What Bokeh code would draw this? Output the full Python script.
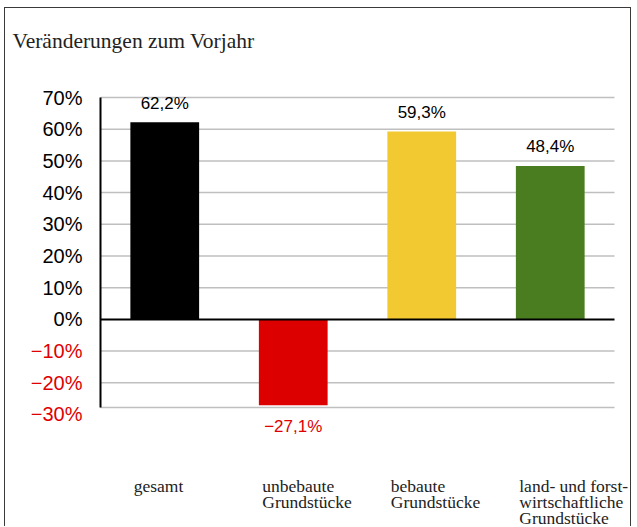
from bokeh.plotting import figure
from bokeh.models import ColumnDataSource, Range1d
from bokeh.core.properties import value
from bokeh.embed import file_html
from bokeh.resources import INLINE

title_text = "Veränderungen zum Vorjahr"
categories = ["gesamt", "unbebaute\nGrundstücke", "bebaute\nGrundstücke",
              "land- und forst-\nwirtschaftliche\nGrundstücke"]
changes = [62.2, -27.1, 59.3, 48.4]
bar_colors = ["#000000", "#dc0000", "#f2c931", "#4a7d20"]
y_ticks = [-30, -20, -10, 0, 10, 20, 30, 40, 50, 60, 70]
y_min, y_max = -27.8, 70          # visible value range of the plot area

MINUS = "\u2212"
SANS = value("Liberation Sans")
SERIF = value("Liberation Serif")
RED_TXT = "#e00000"
GRID = "#bfbfbf"


def pct(v, dec=1):
    s = f"{abs(v):.{dec}f}".replace(".", ",")
    return (MINUS if v < 0 else "") + s + "%"


# ---- layout (pixels) -------------------------------------------------------
W, H = 627, 519
PAD_L, PAD_R, PAD_T, PAD_B = 95, 18, 89, 120
n = len(categories)
x_lo, x_hi = -0.5, n - 0.5
px_x = (W - PAD_L - PAD_R) / (x_hi - x_lo)
px_y = (H - PAD_T - PAD_B) / (y_max - y_min)
x_range = Range1d(x_lo - PAD_L / px_x, x_hi + PAD_R / px_x)
y_range = Range1d(y_min - PAD_B / px_y, y_max + PAD_T / px_y)

p = figure(width=W, height=H, x_range=x_range, y_range=y_range,
           output_backend="svg", toolbar_location=None,
           x_axis_location=None, y_axis_location=None,
           min_border=0, min_border_left=0, min_border_right=0,
           min_border_top=0, min_border_bottom=0)
p.outline_line_color = None
p.xgrid.visible = False
p.ygrid.visible = False
p.background_fill_color = "white"
p.border_fill_color = "white"
p.styles = {"margin-left": "4px", "margin-top": "7px",
            "border-left": "1px solid #3a3a3a", "border-top": "1px solid #3a3a3a",
            "border-right": "1px solid #3a3a3a"}

xs = list(range(n))

# ---- grid lines --------------------------------------------------------------
grid_vals = [t for t in y_ticks if y_min < t <= y_max and t != 0]
p.segment(x0=[x_lo] * len(grid_vals), x1=[x_hi] * len(grid_vals), y0=grid_vals, y1=grid_vals,
          line_color=GRID, line_width=1.5)
# lower border of the plot area
p.segment(x0=[x_lo], x1=[x_hi], y0=[y_min], y1=[y_min], line_color=GRID, line_width=1.5)

# ---- bars ----------------------------------------------------------------------
src = ColumnDataSource(dict(x=xs, v=changes, c=bar_colors))
p.vbar(x="x", top="v", bottom=0, width=0.535, fill_color="c", line_color=None, source=src)

# zero line and value axis line
p.segment(x0=[x_lo], x1=[x_hi], y0=[0], y1=[0], line_color="black", line_width=2)
p.segment(x0=[x_lo], x1=[x_lo], y0=[y_min], y1=[y_max], line_color="black", line_width=2)

# ---- tick labels -------------------------------------------------------------
tick_src = ColumnDataSource(dict(x=[x_lo] * len(y_ticks), y=y_ticks,
                                 t=[pct(t, 0) for t in y_ticks],
                                 c=[RED_TXT if t < 0 else "black" for t in y_ticks]))
p.text(x="x", y="y", text="t", source=tick_src, x_offset=-18,
       text_align="right", text_baseline="middle",
       text_font=SANS, text_font_size="20px", text_color="c")

# ---- value labels ------------------------------------------------------------
val_src = ColumnDataSource(dict(x=xs, y=changes, t=[pct(v) for v in changes],
                                c=[RED_TXT if v < 0 else "black" for v in changes],
                                off=[21 if v < 0 else -19 for v in changes]))
p.text(x="x", y="y", text="t", source=val_src, y_offset="off",
       text_align="center", text_baseline="middle",
       text_font=SANS, text_font_size="17px", text_color="c")

# ---- category labels ------------------------------------------------------------
cat_src = ColumnDataSource(dict(x=xs, y=[y_min] * n, t=categories))
p.text(x="x", y="y", text="t", source=cat_src, x_offset=-31, y_offset=68,
       text_align="left", text_baseline="top", text_line_height=0.8,
       text_font=SERIF, text_font_size="17.5px", text_color="#222222")

# ---- title -------------------------------------------------------------------------
p.text(x=[x_range.start], y=[y_range.end], text=[title_text], x_offset=7, y_offset=32,
       text_align="left", text_baseline="alphabetic",
       text_font=SERIF, text_font_size="21.5px", text_color="#222222")

open("out.html", "w").write(file_html(p, INLINE))
